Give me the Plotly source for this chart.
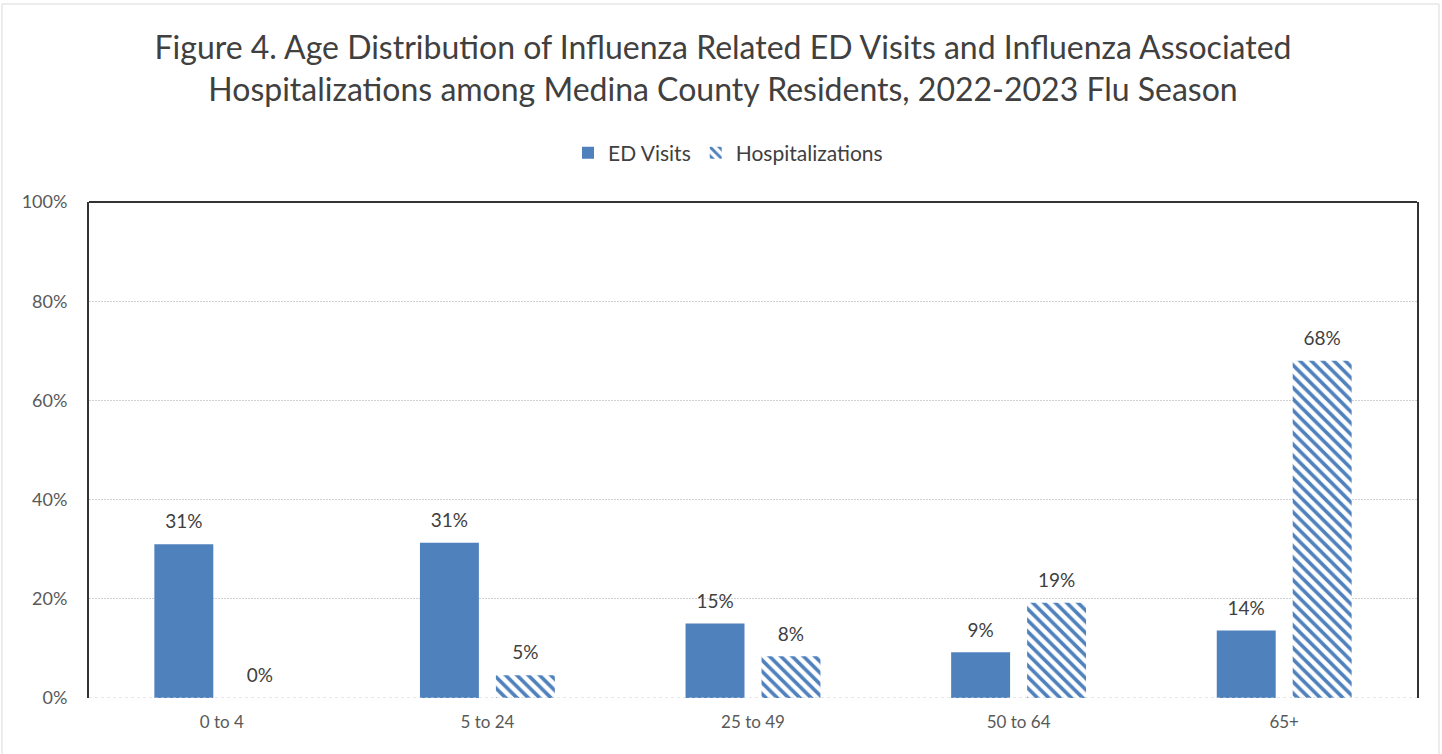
import plotly.graph_objects as go

categories = ["0 to 4", "5 to 24", "25 to 49", "50 to 64", "65+"]
ed_visits = [0.31, 0.313, 0.15, 0.092, 0.136]
hospitalizations = [0.0, 0.046, 0.084, 0.192, 0.68]
y_ticks = [0, 0.2, 0.4, 0.6, 0.8, 1.0]
y_tick_labels = ["0%", "20%", "40%", "60%", "80%", "100%"]

BLUE = "#4F81BD"
FONT = "Lato"
BARGAP = 0.428

fig = go.Figure()
fig.add_trace(go.Bar(
    name="ED Visits", x=categories, y=ed_visits,
    marker=dict(color=BLUE, line=dict(width=0)),
    offsetgroup="ED Visits", alignmentgroup="all",
    hoverinfo="x+y",
))
fig.add_trace(go.Bar(
    name="Hospitalizations", x=categories, y=hospitalizations,
    marker=dict(color="white", line=dict(width=0),
                pattern=dict(shape="\\", fgcolor=BLUE, bgcolor="white",
                             size=8, solidity=0.45, fillmode="replace")),
    offsetgroup="Hospitalizations", alignmentgroup="all",
    hoverinfo="x+y",
))
# data labels, grouped like the bars
for name, vals in (("ED Visits", ed_visits), ("Hospitalizations", hospitalizations)):
    fig.add_trace(go.Scatter(
        x=categories, y=vals, mode="markers+text",
        texttemplate="%{y:.0%}", textposition="top center",
        textfont=dict(size=19, color="#404040", family=FONT),
        marker=dict(size=16, opacity=0),
        showlegend=False, hoverinfo="skip", cliponaxis=False,
        offsetgroup=name, alignmentgroup="labels",
    ))

fig.update_layout(
    width=1442, height=754,
    margin=dict(l=89, r=25, t=202, b=56),
    paper_bgcolor="white", plot_bgcolor="white",
    barmode="group", bargap=BARGAP, bargroupgap=0.224,
    scattermode="group", scattergap=BARGAP,
    font=dict(family=FONT, color="#595959"),
    title=dict(
        text="Figure 4. Age Distribution of Influenza Related ED Visits and Influenza Associated<br>Hospitalizations among Medina County Residents, 2022-2023 Flu Season",
        x=723 / 1442, xanchor="center", xref="container", y=1 - 59 / 754, yanchor="middle", yref="container",
        font=dict(size=32, color="#404040", family=FONT),
    ),
    legend=dict(orientation="h", x=(728 - 89) / 1328, xanchor="center", y=1 + (202 - 153) / 496, yanchor="middle",
                font=dict(size=21, color="#404040", family=FONT)),
    showlegend=True,
)
fig.update_xaxes(showline=False, showgrid=False, ticks="", ticklabelstandoff=12,
                 tickfont=dict(size=17, color="#595959", family=FONT))
fig.update_yaxes(range=[0, 1.0], tickvals=y_ticks, ticktext=y_tick_labels,
                 showgrid=True, gridcolor="#D0D0D0", griddash="2px,1px", gridwidth=1,
                 zeroline=False, ticks="", ticklen=0, ticklabelstandoff=16,
                 showline=True, linecolor="#333333", linewidth=2, mirror=True,
                 tickfont=dict(size=18, color="#595959", family=FONT))
fig.add_shape(type="line", xref="paper", yref="paper", x0=0, x1=1, y0=1, y1=1,
              line=dict(color="#333333", width=2))
fig.add_shape(type="line", xref="paper", yref="y", x0=0, x1=1, y0=0, y1=0,
              line=dict(color="#D0D0D0", width=1, dash="dot"))
fig.add_shape(type="rect", xref="paper", yref="paper",
              x0=(2 - 89) / 1328, x1=(1439 - 89) / 1328, y0=-0.2, y1=(698 - 4) / 496,
              line=dict(color="#D9D9D9", width=1), layer="below")

fig.write_html("out.html", config={"displayModeBar": False},
               post_script="document.body.style.margin='0px';")
